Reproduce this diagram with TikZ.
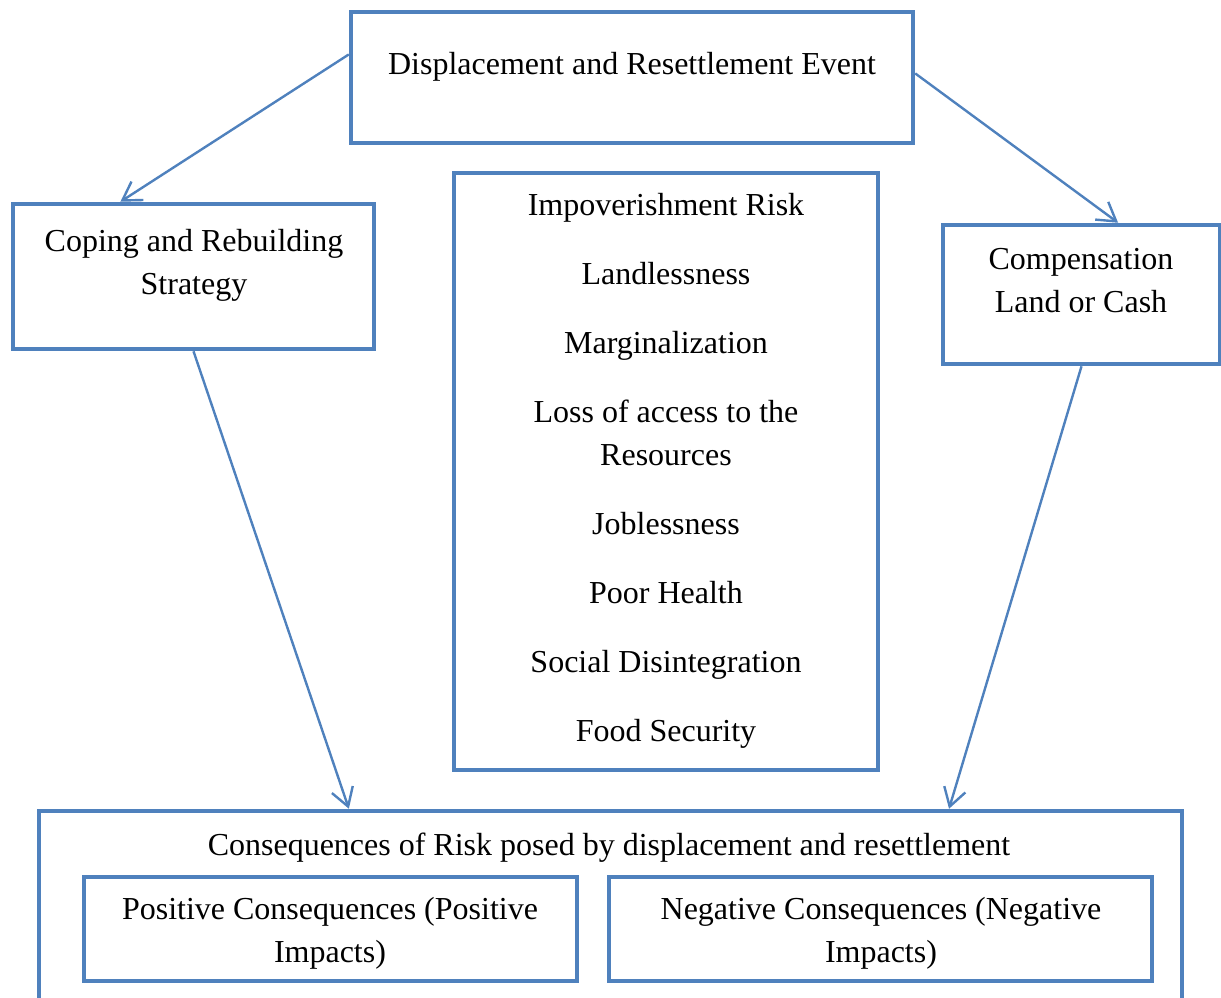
\documentclass[tikz,border=0pt]{standalone}
\usepackage{fontspec}
\setmainfont{Liberation Serif}
\usepackage{tikz}
\usetikzlibrary{calc}
\usetikzlibrary{arrows.meta}
\definecolor{boxblue}{HTML}{4F81BD}

\begin{document}
\begin{tikzpicture}[x=1pt,y=-1pt,
    box/.style={draw=boxblue,line width=4.5pt,inner sep=0pt},
    txt/.style={anchor=north,inner sep=0pt,align=center,font=\fontsize{32}{43}\selectfont},
    arr/.style={draw=boxblue,line width=2.4pt,-{Straight Barb[length=18pt,width=22pt]}}]
            \useasboundingbox (0,0) rectangle (1221,997);
            \clip (0,0) rectangle (1221,997);

            \node[box,minimum width=562pt,minimum height=131pt] (ev) at (632,77.5) {};
            \node[box,minimum width=361pt,minimum height=145pt] (cope) at (193.5,276.5) {};
            \node[box,minimum width=424pt,minimum height=597pt] (risk) at (666,471.5) {};
            \node[box,minimum width=277pt,minimum height=139pt] (comp) at (1081.5,294.5) {};
            \node[box,minimum width=1143pt,minimum height=194pt] (cons) at (610.5,908) {};
            \node[box,minimum width=493pt,minimum height=104pt] (pos) at (330.5,929) {};
            \node[box,minimum width=543pt,minimum height=104pt] (neg) at (880.5,929) {};

            \node[txt] (evtxt) at (632,52) {Displacement and Resettlement Event};
            \node[txt] (copetxt) at (194,229) {Coping and Rebuilding\\Strategy};
            \node[txt] (risktxt) at (666,193) {Impoverishment Risk\\[26pt]Landlessness\\[26pt]Marginalization\\[26pt]Loss of access to the\\Resources\\[26pt]Joblessness\\[26pt]Poor Health\\[26pt]Social Disintegration\\[26pt]Food Security};
            \node[txt] (comptxt) at (1081,248) {Compensation\\Land or Cash};
            \node[txt] (constxt) at (609,833) {Consequences of Risk posed by displacement and resettlement};
            \node[txt] (postxt) at (330,897) {Positive Consequences (Positive\\Impacts)};
            \node[txt] (negtxt) at (881,897) {Negative Consequences (Negative\\Impacts)};

            \draw[arr] ($(ev.north west)!0.33!(ev.south west)$) -- ($(cope.north west)!0.3!(cope.north east)$);
            \draw[arr] ($(ev.north east)!0.47!(ev.south east)$) -- ($(comp.north west)!0.63!(comp.north east)$);
            \draw[arr] (cope.south) -- ($(cons.north west)!0.272!(cons.north east)$);
            \draw[arr] (comp.south) -- ($(cons.north west)!0.795!(cons.north east)$);

        \end{tikzpicture}
\end{document}
